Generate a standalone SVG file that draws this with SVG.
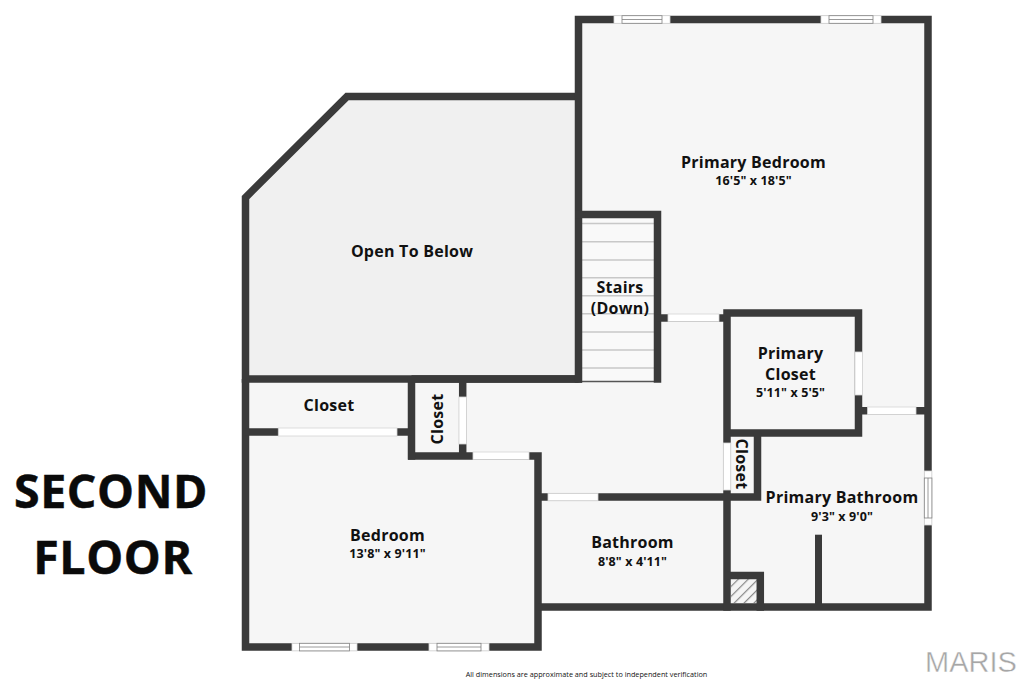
<svg xmlns="http://www.w3.org/2000/svg" width="1024" height="682" viewBox="0 0 1024 682">
<style>
.w{fill:none;stroke:#3a3a3a;stroke-width:7.5;stroke-linecap:butt;stroke-linejoin:miter}
.d{fill:#fff;stroke:#d4d4d4;stroke-width:.8}
.win{fill:#fff;stroke:#808080;stroke-width:.8}
.t{stroke:#c8c8c8;stroke-width:1.6}
text{font-family:"Open Sans","Noto Sans",sans-serif;fill:#111;text-anchor:middle}
.n{font-size:16px;font-weight:700;letter-spacing:.25px}
.s{font-size:12.500px;font-weight:700;letter-spacing:.1px}
.h{font-size:46.500px;font-weight:700;letter-spacing:.6px;fill:#0a0a0a;stroke:#0a0a0a;stroke-width:.5}
</style>
<defs>
<pattern id="hatch" width="7" height="7" patternUnits="userSpaceOnUse" patternTransform="rotate(45)"><rect width="7" height="7" fill="#f5f5f5"/><rect width="1.2" height="7" fill="#8a8a8a"/></pattern>
</defs>
<rect width="1024" height="682" fill="#fff"/>
<g id="floor">
<path d="M245.500 197.500L347 96.500H578.500V19.500H928V607H538V647H245.500Z" fill="#f6f6f6"/>
<path d="M245.500 197.500L347 96.500H578.500V379H245.500Z" fill="#f0f0f0"/>
<rect x="582" y="218" width="72" height="163" fill="#f9f9f9"/>
<path class="t" d="M582 223.500H654M582 241.700H654M582 260H654M582 277.700H654M582 295.700H654M582 313.700H654M582 332H654M582 350H654M582 368H654"/>
<path d="M582 381.500H654" stroke="#555" stroke-width="1.400"/>
<rect x="731" y="579" width="26" height="24" fill="url(#hatch)"/>
</g>
<g id="walls">
<path class="w" d="M578.500 379H245.500V197.500L347 96.500H578.500"/>
<path class="w" d="M245.500 379V647H538V456H408"/>
<path class="w" d="M411.500 379V459.700"/>
<path class="w" d="M411.500 379H582"/>
<path class="w" d="M578.500 382.700V19.500H928V607H538"/>
<path class="w" d="M575 214.500H657.500V382.700"/>
<path class="w" d="M245.500 432H411.500"/>
<path class="w" d="M462.700 379V456"/>
<path class="w" d="M657.500 318H727"/>
<path class="w" d="M727 610.700V313H858.500V433H727"/>
<path class="w" d="M858.500 410.700H928"/>
<path class="w" d="M757.500 433V497H538"/>
<path class="w" d="M727 575.500H760.300V610.700"/>
<path d="M815 534.700H822V607H815Z" fill="#3a3a3a"/>
</g>
<g id="openings">
<rect class="d" x="278.300" y="428" width="118.700" height="8"/>
<rect class="d" x="459" y="397" width="7.500" height="47"/>
<rect class="d" x="473" y="452" width="56" height="7.500"/>
<rect class="d" x="548" y="493.300" width="50" height="7.500"/>
<rect class="d" x="668" y="314" width="51" height="7.500"/>
<rect class="d" x="855" y="352" width="7.500" height="43"/>
<rect class="d" x="867.500" y="407" width="48.500" height="7.500"/>
<rect class="d" x="723.300" y="443" width="7.500" height="47"/>
</g>
<g id="windows">
<g id="win1"><rect class="d" x="614" y="15.700" width="56" height="7.600"/><rect class="win" x="622" y="15.700" width="40" height="7.600"/><path class="win" d="M622 19.500H662"/></g>
<g id="win2"><rect class="d" x="821" y="15.700" width="60" height="7.600"/><rect class="win" x="829" y="15.700" width="44" height="7.600"/><path class="win" d="M829 19.500H873"/></g>
<g id="win3"><rect class="d" x="292" y="643.300" width="65" height="7.600"/><rect class="win" x="299.500" y="643.300" width="50" height="7.600"/><path class="win" d="M299.500 647H349.500"/></g>
<g id="win4"><rect class="d" x="429" y="643.300" width="60" height="7.600"/><rect class="win" x="437" y="643.300" width="44" height="7.600"/><path class="win" d="M437 647H481"/></g>
<g id="win5"><rect class="d" x="924.300" y="471" width="7.600" height="54"/><rect class="win" x="924.300" y="478" width="7.600" height="40"/><path class="win" d="M928 478V518"/></g>
</g>
<g id="labels">
<g id="primary-bedroom"><text class="n" x="753.500" y="167.500">Primary Bedroom</text><text class="s" x="753.500" y="185">16'5" x 18'5"</text></g>
<g id="open-to-below"><text class="n" x="412" y="256.500">Open To Below</text></g>
<g id="stairs"><text class="n" x="620" y="293">Stairs</text><text class="n" x="620" y="314">(Down)</text></g>
<g id="primary-closet"><text class="n" x="790.500" y="359">Primary</text><text class="n" x="790.500" y="380">Closet</text><text class="s" x="790.500" y="397">5'11" x 5'5"</text></g>
<g id="closet-1"><text class="n" x="329" y="411">Closet</text></g>
<g id="closet-2"><text class="n" transform="translate(442.500 419) rotate(-90)">Closet</text></g>
<g id="closet-3"><text class="n" transform="translate(735.500 464) rotate(90)">Closet</text></g>
<g id="primary-bathroom"><text class="n" x="842" y="503">Primary Bathroom</text><text class="s" x="842" y="521">9'3" x 9'0"</text></g>
<g id="bathroom"><text class="n" x="632.500" y="548">Bathroom</text><text class="s" x="632.500" y="566">8'8" x 4'11"</text></g>
<g id="bedroom"><text class="n" x="387.500" y="540.500">Bedroom</text><text class="s" x="387.500" y="558">13'8" x 9'11"</text></g>
<g id="title"><text class="h" x="111" y="507.500">SECOND</text><text class="h" x="113" y="573.500">FLOOR</text></g>
<text x="586.500" y="677" style="font-size:7.250px">All dimensions are approximate and subject to independent verification</text>
<text x="971" y="672" style="font-family:'Liberation Sans',sans-serif;font-size:29px;fill:#a6a6a6;stroke:#fff;stroke-width:.4">MARIS</text>
</g>
</svg>
